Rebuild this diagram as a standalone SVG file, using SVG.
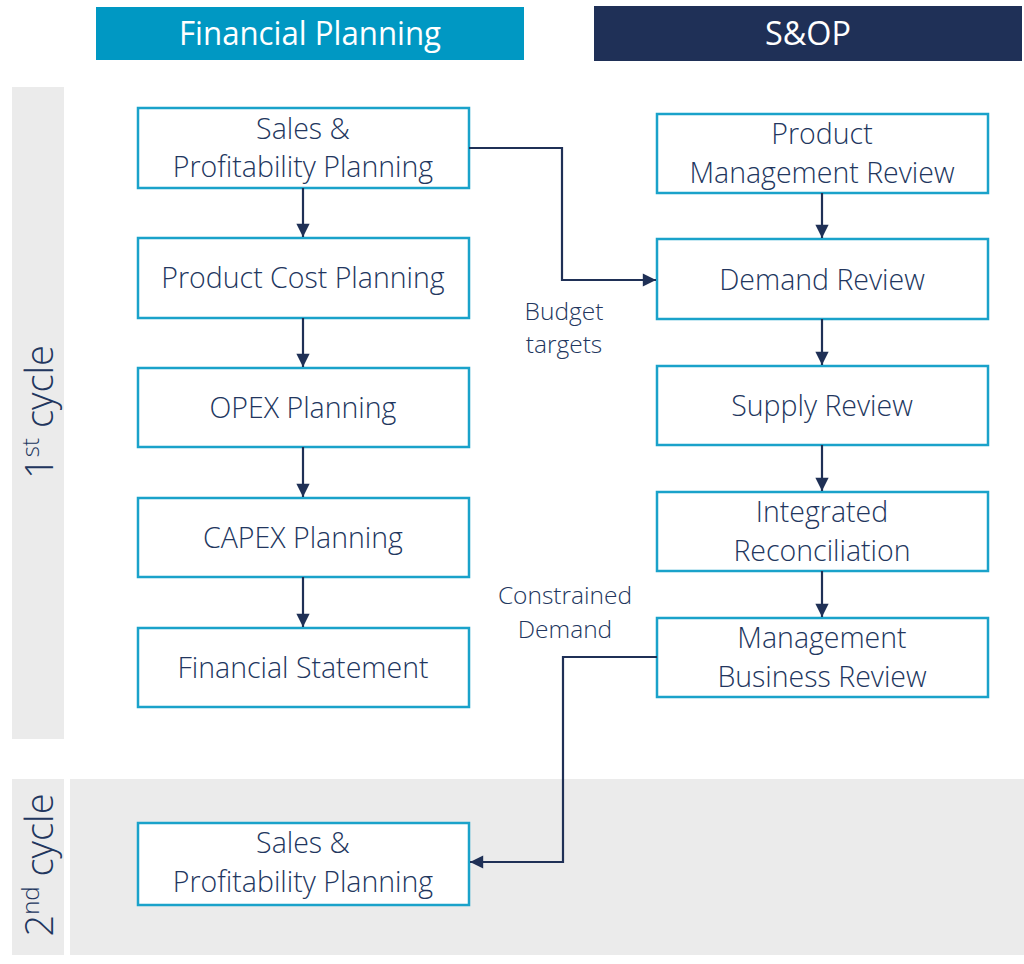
<svg xmlns="http://www.w3.org/2000/svg" width="1024" height="964" viewBox="0 0 1024 964">
<defs>
<style>
.box{fill:#fff;stroke:#1AA2CA;stroke-width:2.5}
.t{font-family:"Open Sans","Liberation Sans",sans-serif;font-size:28.5px;font-weight:300;fill:#22365E;text-anchor:middle}
.lbl{font-family:"Open Sans","Liberation Sans",sans-serif;font-size:24.5px;font-weight:300;fill:#22365E;text-anchor:middle}
.hdr{font-family:"Open Sans","Liberation Sans",sans-serif;font-size:32px;fill:#fff;text-anchor:middle}
.cyc{font-family:"Open Sans","Liberation Sans",sans-serif;font-size:38px;font-weight:300;fill:#22365E;text-anchor:middle}
.c{fill:none;stroke:#1F3056;stroke-width:2.2}
</style>
<marker id="ah" viewBox="0 0 10 10" refX="10" refY="5" markerWidth="6.5" markerHeight="6" markerUnits="strokeWidth" orient="auto">
<path d="M0,0 L10,5 L0,10 z" fill="#1F3056"/>
</marker>
</defs>
<rect width="1024" height="964" fill="#fff"/>
<g id="bands">
<rect x="12" y="87" width="52" height="652" fill="#EBEBEB"/>
<rect x="12" y="779" width="52" height="176" fill="#EBEBEB"/>
<rect x="70" y="779" width="954" height="176" fill="#EBEBEB"/>
<text class="cyc" transform="translate(53,412) rotate(-90)">1<tspan font-size="24" dy="-14">st</tspan><tspan dy="14"> cycle</tspan></text>
<text class="cyc" transform="translate(53,865) rotate(-90)">2<tspan font-size="24" dy="-14">nd</tspan><tspan dy="14"> cycle</tspan></text>
</g>
<g id="hdr-fp">
<rect x="96" y="7" width="428" height="53" fill="#0098C3"/>
<text class="hdr" x="310" y="45" textLength="262" lengthAdjust="spacingAndGlyphs">Financial Planning</text>
</g>
<g id="hdr-sop">
<rect x="594" y="6" width="428" height="55" fill="#1F3057"/>
<text class="hdr" x="808" y="45" textLength="86" lengthAdjust="spacingAndGlyphs">S&amp;OP</text>
</g>
<g id="n-sales1"><rect class="box" x="138" y="108" width="331" height="80"/><text class="t" x="303" y="139">Sales &amp;</text><text class="t" x="303" y="177">Profitability Planning</text></g>
<g id="n-pcp"><rect class="box" x="138" y="238" width="331" height="80"/><text class="t" x="303" y="288">Product Cost Planning</text></g>
<g id="n-opex"><rect class="box" x="138" y="368" width="331" height="79"/><text class="t" x="303" y="418">OPEX Planning</text></g>
<g id="n-capex"><rect class="box" x="138" y="498" width="331" height="79"/><text class="t" x="303" y="548">CAPEX Planning</text></g>
<g id="n-fs"><rect class="box" x="138" y="628" width="331" height="79"/><text class="t" x="303" y="678">Financial Statement</text></g>
<g id="n-pmr"><rect class="box" x="657" y="114" width="331" height="79"/><text class="t" x="822" y="144">Product</text><text class="t" x="822" y="183">Management Review</text></g>
<g id="n-dr"><rect class="box" x="657" y="239" width="331" height="80"/><text class="t" x="822" y="290">Demand Review</text></g>
<g id="n-sr"><rect class="box" x="657" y="366" width="331" height="79"/><text class="t" x="822" y="416">Supply Review</text></g>
<g id="n-ir"><rect class="box" x="657" y="492" width="331" height="79"/><text class="t" x="822" y="522">Integrated</text><text class="t" x="822" y="561">Reconciliation</text></g>
<g id="n-mbr"><rect class="box" x="657" y="618" width="331" height="79"/><text class="t" x="822" y="648">Management</text><text class="t" x="822" y="687">Business Review</text></g>
<g id="n-sales2"><rect class="box" x="138" y="823" width="331" height="82"/><text class="t" x="303" y="853">Sales &amp;</text><text class="t" x="303" y="892">Profitability Planning</text></g>
<g id="connectors">
<path class="c" d="M303,188 V237" marker-end="url(#ah)"/>
<path class="c" d="M303,318 V367" marker-end="url(#ah)"/>
<path class="c" d="M303,447 V497" marker-end="url(#ah)"/>
<path class="c" d="M303,577 V627" marker-end="url(#ah)"/>
<path class="c" d="M822,193 V238" marker-end="url(#ah)"/>
<path class="c" d="M822,319 V365" marker-end="url(#ah)"/>
<path class="c" d="M822,445 V491" marker-end="url(#ah)"/>
<path class="c" d="M822,571 V617" marker-end="url(#ah)"/>
<path class="c" d="M469,148 H562 V280 H656" marker-end="url(#ah)"/>
<path class="c" d="M657,657 H563 V862 H470" marker-end="url(#ah)"/>
<text class="lbl" x="564" y="320">Budget</text>
<text class="lbl" x="564" y="353">targets</text>
<text class="lbl" x="565" y="604">Constrained</text>
<text class="lbl" x="565" y="638">Demand</text>
</g>
</svg>
